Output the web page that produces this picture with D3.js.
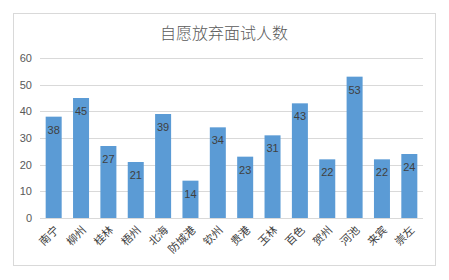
<!DOCTYPE html>
<html>
<head>
<meta charset="utf-8">
<script src="https://cdn.jsdelivr.net/npm/d3@7"></script>
<style>
  body { margin: 0; background: #fff; }
  svg { display: block; font-family: "Noto Sans CJK SC", "Liberation Sans", sans-serif; }
</style>
</head>
<body>
<script>
// data
var cities = ['南宁', '柳州', '桂林', '梧州', '北海', '防城港', '钦州', '贵港', '玉林', '百色', '贺州', '河池', '来宾', '崇左'];
var counts = [38, 45, 27, 21, 39, 14, 34, 23, 31, 43, 22, 53, 22, 24];
var yTicks = [0, 10, 20, 30, 40, 50, 60];

var width = 449, height = 280;
var plot = { left: 40, right: 423, top: 58, bottom: 218 };

var svg = d3.select('body').append('svg')
    .attr('width', width)
    .attr('height', height);

svg.append('rect')
    .attr('width', width).attr('height', height)
    .attr('fill', '#fff');

// chart frame
svg.append('rect')
    .attr('x', 13.5).attr('y', 13.5)
    .attr('width', 422).attr('height', 252)
    .attr('fill', '#fff')
    .attr('stroke', '#d9d9d9');

svg.append('text')
    .attr('x', 224).attr('y', 39)
    .attr('text-anchor', 'middle')
    .attr('fill', '#595959')
    .style('font-size', '16px')
    .style('font-weight', '300')
    .text('自愿放弃面试人数');

var x = d3.scaleBand()
    .domain(cities)
    .range([plot.left, plot.right])
    .paddingInner(0.415)
    .paddingOuter(0.2075);

var y = d3.scaleLinear()
    .domain([0, 60])
    .range([plot.bottom, plot.top]);

// gridlines
svg.append('g')
    .selectAll('line')
    .data(yTicks)
    .join('line')
    .attr('x1', plot.left).attr('x2', plot.right)
    .attr('y1', d => Math.round(y(d)) + 0.5)
    .attr('y2', d => Math.round(y(d)) + 0.5)
    .attr('stroke', '#d9d9d9');

svg.append('g')
    .selectAll('text')
    .data(yTicks)
    .join('text')
    .attr('x', 32)
    .attr('y', d => y(d))
    .attr('dy', '0.35em')
    .attr('text-anchor', 'end')
    .attr('fill', '#595959')
    .style('font-size', '11px')
    .style('font-family', 'Liberation Sans, sans-serif')
    .text(d => d);

// bars
svg.append('g')
    .selectAll('rect')
    .data(counts)
    .join('rect')
    .attr('x', (d, i) => x(cities[i]))
    .attr('y', d => y(d))
    .attr('width', x.bandwidth())
    .attr('height', d => y(0) - y(d))
    .attr('fill', '#5b9bd5');

// value labels
svg.append('g')
    .selectAll('text')
    .data(counts)
    .join('text')
    .attr('x', (d, i) => x(cities[i]) + x.bandwidth() / 2)
    .attr('y', d => y(d) + 13)
    .attr('dy', '0.35em')
    .attr('text-anchor', 'middle')
    .attr('fill', '#404040')
    .style('font-size', '11px')
    .style('font-family', 'Liberation Sans, sans-serif')
    .text(d => d);

// category labels, rotated
svg.append('g')
    .selectAll('text')
    .data(cities)
    .join('text')
    .attr('transform', d => `translate(${x(d) + x.bandwidth() / 2 + 3}, ${plot.bottom + 10}) rotate(-45)`)
    .attr('text-anchor', 'end')
    .attr('dy', '0.35em')
    .attr('fill', '#404040')
    .style('font-size', '11px')
    .text(d => d);
</script>
</body>
</html>
